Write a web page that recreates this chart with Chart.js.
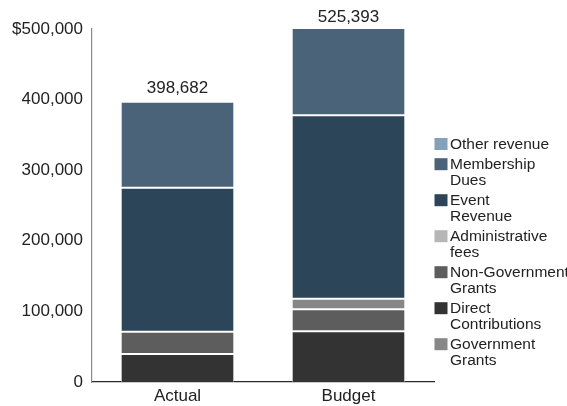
<!DOCTYPE html>
<html>
<head>
<meta charset="utf-8">
<script src="https://cdn.jsdelivr.net/npm/chart.js@4/dist/chart.umd.min.js"></script>
<style>
  html, body { margin: 0; padding: 0; background: #ffffff; }
  #wrap { width: 567px; height: 406px; }
</style>
</head>
<body>
<div id="wrap"><canvas id="revenueChart" width="567" height="406"></canvas></div>
<script>
// Revenue by source, actual vs. budget
const categories = ['Actual', 'Budget'];

const directContributions  = [39500, 72000];
const nonGovernmentGrants  = [31500, 31000];
const governmentGrants     = [null, 15000];
const eventRevenue         = [204000, 260000];
const membershipDues       = [122000, 147393];
const administrativeFees   = [500, null];
const otherRevenue         = [1182, null];

const yTickLabels = ['0', '100,000', '200,000', '300,000', '400,000', '$500,000'];

// Legend entries, top to bottom, with their wrapped lines
const legendOrder = ['Other revenue', 'Membership Dues', 'Event Revenue', 'Administrative fees',
                     'Non-Government Grants', 'Direct Contributions', 'Government Grants'];
const legendLines = [['Other revenue'], ['Membership', 'Dues'], ['Event', 'Revenue'],
                     ['Administrative', 'fees'], ['Non-Government', 'Grants'],
                     ['Direct', 'Contributions'], ['Government', 'Grants']];

const FONT = '"Liberation Sans", Arial, Helvetica, sans-serif';
const TEXT = '#222222';

// Stacked bottom to top
const series = [
  { label: 'Direct Contributions',  data: directContributions, color: '#333333' },
  { label: 'Non-Government Grants', data: nonGovernmentGrants, color: '#5d5d5d' },
  { label: 'Government Grants',     data: governmentGrants,    color: '#878787' },
  { label: 'Event Revenue',         data: eventRevenue,        color: '#2d4559' },
  { label: 'Membership Dues',       data: membershipDues,      color: '#4a6379' },
  { label: 'Administrative fees',   data: administrativeFees,  color: '#b6b6b6' },
  { label: 'Other revenue',         data: otherRevenue,        color: '#86a0b8' }
];

const datasets = series.map((s, i) => ({
  label: s.label,
  data: s.data,
  backgroundColor: s.color,
  borderColor: 'rgba(255,255,255,0.9)',
  borderSkipped: false,
  borderWidth: { top: 1, bottom: i === 0 ? 0 : 1, left: 0.6, right: 0.6 },
  categoryPercentage: 1.0,
  barPercentage: 0.66
}));

// Total printed above each stack
const totalsPlugin = {
  id: 'stackTotals',
  afterDatasetsDraw(chart) {
    const { ctx, scales: { x, y }, chartArea } = chart;
    ctx.save();
    ctx.font = '17px ' + FONT;
    ctx.fillStyle = TEXT;
    ctx.textAlign = 'center';
    ctx.textBaseline = 'alphabetic';
    categories.forEach((c, i) => {
      const total = series.reduce((sum, s) => sum + (s.data[i] || 0), 0);
      const top = Math.max(y.getPixelForValue(total), chartArea.top);
      ctx.fillText(total.toLocaleString('en-US'), x.getPixelForValue(i), top - 7.5);
    });
    ctx.restore();
  }
};

// Legend to the right of the plot, with wrapped entries
const legendPlugin = {
  id: 'sideLegend',
  afterDraw(chart) {
    const { ctx, chartArea } = chart;
    const boxX = chartArea.right + 0.5;
    const textX = boxX + 15.5;
    const lineH = 15.8;
    const gap = 4.4;
    let baseline = 149;
    ctx.save();
    ctx.font = '15.5px ' + FONT;
    ctx.textAlign = 'left';
    ctx.textBaseline = 'alphabetic';
    legendOrder.forEach((name, i) => {
      const s = series.find(d => d.label === name);
      ctx.fillStyle = s.color;
      ctx.fillRect(boxX, baseline - 11, 13, 12);
      ctx.fillStyle = TEXT;
      legendLines[i].forEach((line, j) => {
        ctx.fillText(line, textX, baseline + j * lineH);
      });
      baseline += legendLines[i].length * lineH + gap;
    });
    ctx.restore();
  }
};

new Chart(document.getElementById('revenueChart'), {
  type: 'bar',
  data: { labels: categories, datasets },
  options: {
    responsive: false,
    animation: false,
    layout: { padding: { top: 29, right: 133, bottom: 0, left: 0 } },
    plugins: {
      legend: { display: false },
      tooltip: { enabled: false }
    },
    scales: {
      x: {
        stacked: true,
        grid: { display: false, drawTicks: false },
        border: { display: true, color: '#2a2a2a', width: 1.2 },
        ticks: { color: TEXT, font: { family: FONT, size: 17 }, padding: 4 },
        afterFit(scale) { scale.height = 24; }
      },
      y: {
        stacked: true,
        min: 0,
        max: 500000,
        grid: { display: false, drawTicks: false },
        border: { display: true, color: '#8a8a8a', width: 1.2 },
        ticks: {
          stepSize: 100000,
          color: TEXT,
          font: { family: FONT, size: 17 },
          padding: 9,
          callback: (value, index) => yTickLabels[index]
        },
        afterFit(scale) { scale.width = 92; }
      }
    }
  },
  plugins: [totalsPlugin, legendPlugin]
});
</script>
</body>
</html>
